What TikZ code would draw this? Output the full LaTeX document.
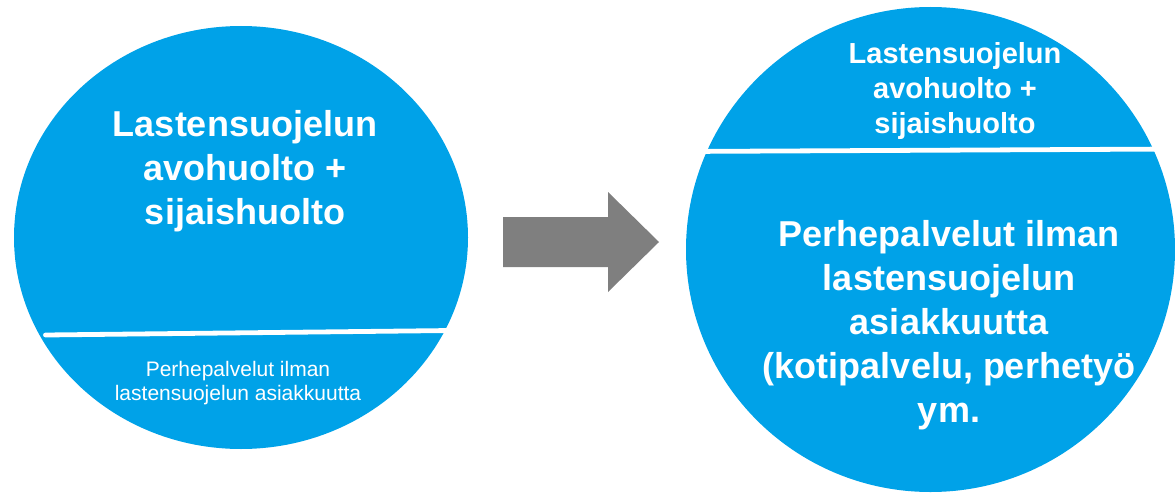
\documentclass[tikz,border=0pt]{standalone}
\usepackage{fontspec}
\setmainfont{Liberation Sans}
\definecolor{circblue}{RGB}{0,162,232}
\definecolor{arrowgray}{RGB}{127,127,127}
\tikzset{
  blob/.style={fill=circblue},
  divider/.style={draw=white, line width=4.8pt, line cap=round},
  bigtxt/.style={text=white, align=center, anchor=base, inner sep=0pt, font=\bfseries\fontsize{36}{44}\selectfont},
  midtxt/.style={text=white, align=center, anchor=base, inner sep=0pt, font=\bfseries\fontsize{29}{35}\selectfont},
  smalltxt/.style={text=white, align=center, anchor=base, inner sep=0pt, font=\fontsize{21}{24}\selectfont},
  bigarrow/.style={fill=arrowgray}
}
\begin{document}
\begin{tikzpicture}[x=1pt, y=-1pt]
\useasboundingbox (0,0) rectangle (1175,495);
% left circle
\fill[blob] (241,237.5) ellipse [x radius=227, y radius=211.5];
\draw[divider] (45.5,335) -- (452,330.5);
\node[bigtxt] (lup) at (245,224) {Lastensuojelun\\avohuolto +\\sijaishuolto};
\node[smalltxt] (llow) at (238,400) {Perhepalvelut ilman\\lastensuojelun asiakkuutta};
% arrow
\fill[bigarrow] (503,217) -- (608,217) -- (608,192) -- (659,242) -- (608,292) -- (608,267) -- (503,267) -- cycle;
% right circle
\fill[blob] (930.5,249.5) ellipse [x radius=244.5, y radius=242.5];
\draw[divider] (680,151.5) -- (1180,149);
\node[midtxt] (rup) at (955,133) {Lastensuojelun\\avohuolto +\\sijaishuolto};
\node[bigtxt] (rlow) at (949,422) {Perhepalvelut ilman\\lastensuojelun\\asiakkuutta\\(kotipalvelu, perhetyö\\ym.};
\end{tikzpicture}
\end{document}
